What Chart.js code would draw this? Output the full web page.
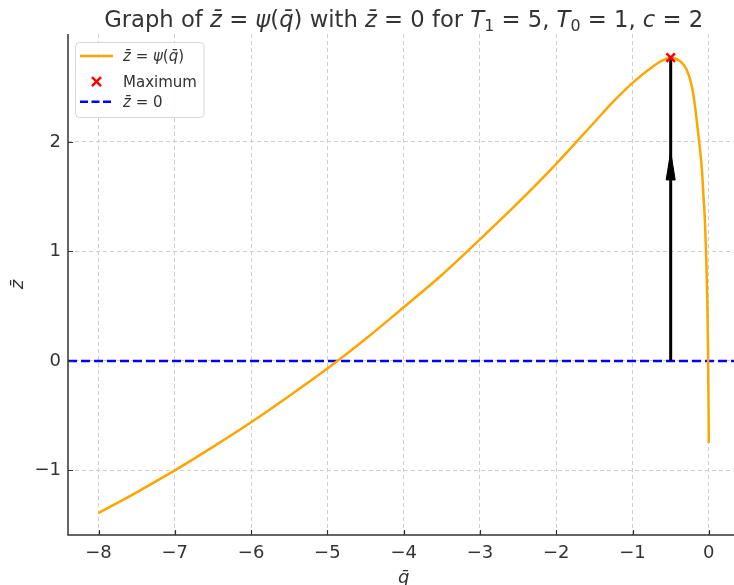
<!DOCTYPE html>
<html lang="en">
<head>
<meta charset="UTF-8">
<title>Graph of z̄ = ψ(q̄)</title>
<style>
  html, body { margin: 0; padding: 0; background: #fff; }
  #wrap { width: 734px; height: 585px; overflow: hidden; }
</style>
<script src="https://cdn.jsdelivr.net/npm/chart.js"></script>
</head>
<body>
<div id="wrap"><canvas id="psiChart" width="734" height="585"></canvas></div>
<script>
// curve z = psi(q)
const qValues = [-8, -7.5, -7, -6.5, -6, -5.5, -5, -4.5, -4, -3.5, -3, -2.5, -2, -1.5, -1.25, -1, -0.75, -0.62, -0.5, -0.38, -0.29, -0.22, -0.18, -0.145, -0.115, -0.09, -0.07, -0.05, -0.02, -0.01, 0];
const zValues = [-1.39, -1.20, -1.00, -0.785, -0.56, -0.32, -0.07, 0.20, 0.49, 0.785, 1.11, 1.445, 1.80, 2.18, 2.37, 2.54, 2.68, 2.74, 2.77, 2.74, 2.66, 2.50, 2.32, 2.11, 1.93, 1.74, 1.50, 1.26, 0.56, 0.10, -0.75];

// maximum point
const maxQ = [-0.5];
const maxZ = [2.77];

// vertical arrow from z=0 up to the maximum
const arrowQ = [-0.5, -0.5];
const arrowZ = [0, 2.77];
const headQ = [-0.559, -0.5, -0.441, -0.559];
const headZ = [1.653, 1.911, 1.653, 1.653];

// z = 0 reference line
const zeroQ = [-8.4, 0.4];
const zeroZ = [0, 0];

const xTicks = [-8, -7, -6, -5, -4, -3, -2, -1, 0];
const yTicks = [-1, 0, 1, 2];

const pts = (xs, ys) => xs.map((v, i) => ({ x: v, y: ys[i] }));
const FONT = '"DejaVu Sans", "Liberation Sans", sans-serif';
const TXT = '#333333';

function drawMath(ctx, parts, x, y, size, align) {
  const font = (it, s) => (it ? 'italic ' : '') + s + 'px ' + FONT;
  let total = 0;
  const widths = parts.map(p => {
    ctx.font = font(p[1], p[2] ? size * 0.7 : size);
    const w = ctx.measureText(p[0]).width;
    total += w;
    return w;
  });
  let cx = align === 'center' ? x - total / 2 : x;
  ctx.textAlign = 'left';
  ctx.textBaseline = 'alphabetic';
  parts.forEach((p, i) => {
    ctx.font = font(p[1], p[2] ? size * 0.7 : size);
    ctx.fillText(p[0], cx, y + (p[2] ? size * 0.22 : 0));
    cx += widths[i];
  });
}

const ZBAR = 'z\u0304';
const QBAR = 'q\u0304';

const decor = {
  id: 'decor',
  afterDraw(chart) {
    const { ctx, chartArea: a, scales: { x, y } } = chart;
    ctx.save();

    // spines (left + bottom only)
    ctx.strokeStyle = '#333333';
    ctx.lineWidth = 1.5;
    ctx.setLineDash([]);
    ctx.beginPath();
    ctx.moveTo(a.left, a.top);
    ctx.lineTo(a.left, a.bottom);
    ctx.lineTo(a.right, a.bottom);
    ctx.stroke();

    // inward ticks
    ctx.lineWidth = 1.2;
    ctx.beginPath();
    xTicks.forEach(v => {
      const px = Math.round(x.getPixelForValue(v)) + 0.5;
      ctx.moveTo(px, a.bottom);
      ctx.lineTo(px, a.bottom - 5);
    });
    yTicks.forEach(v => {
      const py = Math.round(y.getPixelForValue(v)) + 0.5;
      ctx.moveTo(a.left, py);
      ctx.lineTo(a.left + 5, py);
    });
    ctx.stroke();

    // title, centred over the full axes box
    ctx.fillStyle = TXT;
    const cx = (a.left + x.getPixelForValue(0.4)) / 2;
    drawMath(ctx, [
      ['Graph of ', false], [ZBAR, true], [' = ', false], ['\u03c8', true], ['(', false], [QBAR, true], [')', false],
      [' with ', false], [ZBAR, true], [' = 0 for ', false],
      ['T', true], ['1', false, true], [' = 5, ', false],
      ['T', true], ['0', false, true], [' = 1, ', false],
      ['c', true], [' = 2', false]
    ], cx, 26.5, 22.7, 'center');

    // axis labels
    drawMath(ctx, [[QBAR, true]], cx, 583, 18, 'center');
    ctx.save();
    ctx.translate(23, (a.top + a.bottom) / 2);
    ctx.rotate(-Math.PI / 2);
    drawMath(ctx, [[ZBAR, true]], 0, 0, 18, 'center');
    ctx.restore();

    // legend
    const lx = 75.5, ly = 42.5, lw = 128.5, lh = 75;
    ctx.beginPath();
    ctx.roundRect(lx, ly, lw, lh, 4);
    ctx.fillStyle = 'rgba(255,255,255,0.85)';
    ctx.fill();
    ctx.strokeStyle = '#d6d6d6';
    ctx.lineWidth = 1;
    ctx.stroke();

    const rows = [56, 81.7, 101.7];
    ctx.lineWidth = 2.5;
    ctx.strokeStyle = '#ffa500';
    ctx.beginPath(); ctx.moveTo(80, rows[0]); ctx.lineTo(113, rows[0]); ctx.stroke();

    ctx.strokeStyle = '#ff0000';
    ctx.beginPath();
    ctx.moveTo(92, rows[1] - 4.5); ctx.lineTo(101, rows[1] + 4.5);
    ctx.moveTo(101, rows[1] - 4.5); ctx.lineTo(92, rows[1] + 4.5);
    ctx.stroke();

    ctx.strokeStyle = '#0000ff';
    ctx.setLineDash([8, 3.5]);
    ctx.beginPath(); ctx.moveTo(80, rows[2]); ctx.lineTo(113, rows[2]); ctx.stroke();
    ctx.setLineDash([]);

    ctx.fillStyle = TXT;
    const ls = 15;
    drawMath(ctx, [[ZBAR, true], [' = ', false], ['\u03c8', true], ['(', false], [QBAR, true], [')', false]], 123, rows[0] + ls * 0.36, ls, 'left');
    drawMath(ctx, [['Maximum', false]], 123, rows[1] + ls * 0.36, ls, 'left');
    drawMath(ctx, [[ZBAR, true], [' = 0', false]], 123, rows[2] + ls * 0.36, ls, 'left');

    ctx.restore();
  }
};

new Chart(document.getElementById('psiChart'), {
  type: 'scatter',
  data: {
    datasets: [
      {
        label: 'Maximum',
        data: pts(maxQ, maxZ),
        pointStyle: 'crossRot',
        pointRadius: 6,
        borderColor: '#ff0000',
        backgroundColor: '#ff0000',
        pointBorderWidth: 2.5,
        showLine: false
      },
      {
        label: 'arrow head',
        data: pts(headQ, headZ),
        showLine: true,
        borderColor: '#000000',
        backgroundColor: '#000000',
        borderWidth: 1,
        pointRadius: 0,
        fill: 'shape'
      },
      {
        label: 'arrow',
        data: pts(arrowQ, arrowZ),
        showLine: true,
        borderColor: '#000000',
        borderWidth: 3,
        pointRadius: 0
      },
      {
        label: 'z = psi(q)',
        data: pts(qValues, zValues),
        showLine: true,
        borderColor: '#ffa500',
        borderWidth: 2.5,
        pointRadius: 0,
        cubicInterpolationMode: 'monotone'
      },
      {
        label: 'z = 0',
        data: pts(zeroQ, zeroZ),
        showLine: true,
        borderColor: '#0000ff',
        borderWidth: 2.5,
        borderDash: [9, 4],
        pointRadius: 0
      }
    ]
  },
  options: {
    responsive: false,
    devicePixelRatio: 1,
    animation: false,
    layout: { autoPadding: false, padding: { top: 34, right: 0, bottom: 0, left: 0 } },
    plugins: {
      legend: { display: false },
      title: { display: false },
      tooltip: { enabled: false }
    },
    scales: {
      x: {
        type: 'linear',
        min: -8.4,
        max: 0.33,
        afterBuildTicks: s => { s.ticks = xTicks.map(v => ({ value: v })); },
        afterFit: s => { s.height = 50; s.paddingLeft = 0; s.paddingRight = 0; },
        grid: { color: '#cfcfcf', lineWidth: 1, drawTicks: false },
        border: { display: false, dash: [4, 3] },
        ticks: {
          color: TXT,
          padding: 8,
          maxRotation: 0,
          font: { family: FONT, size: 18 },
          callback: v => String(v).replace('-', '\u2212')
        }
      },
      y: {
        type: 'linear',
        min: -1.59,
        max: 2.986,
        afterBuildTicks: s => { s.ticks = yTicks.map(v => ({ value: v })); },
        afterFit: s => { s.width = 68; s.paddingTop = 0; s.paddingBottom = 0; },
        grid: { color: '#cfcfcf', lineWidth: 1, drawTicks: false },
        border: { display: false, dash: [4, 3] },
        ticks: {
          color: TXT,
          padding: 7,
          font: { family: FONT, size: 18 },
          callback: v => String(v).replace('-', '\u2212')
        }
      }
    }
  },
  plugins: [decor]
});
</script>
</body>
</html>
